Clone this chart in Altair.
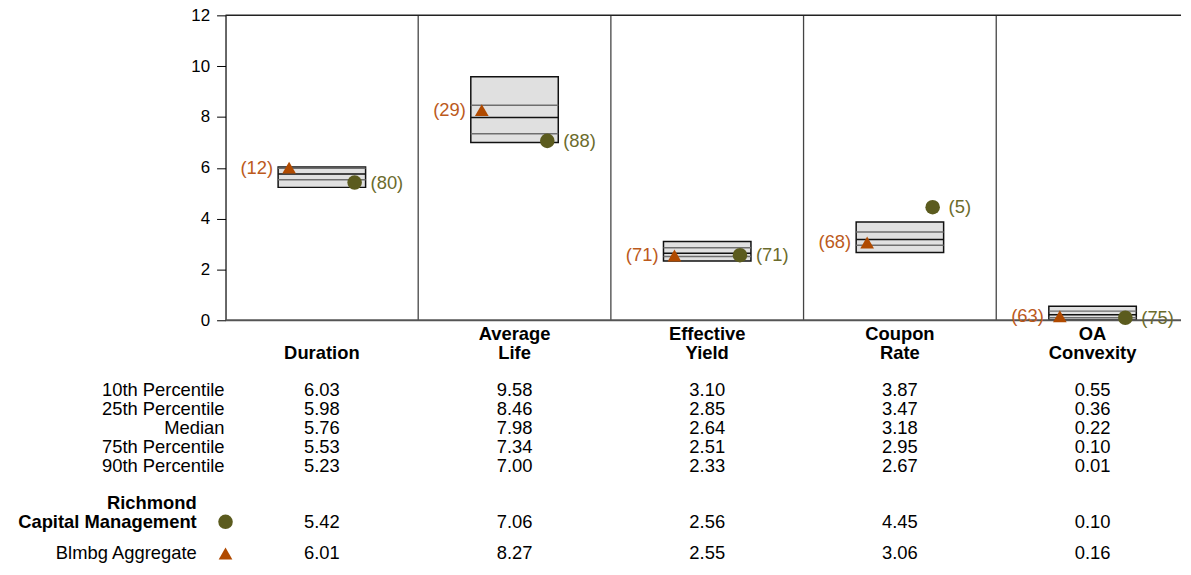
import altair as alt
import pandas as pd

# ---------------- data ----------------
categories = ["Duration", "Average Life", "Effective Yield", "Coupon Rate", "OA Convexity"]
p10 = [6.03, 9.58, 3.10, 3.87, 0.55]
p25 = [5.98, 8.46, 2.85, 3.47, 0.36]
median = [5.76, 7.98, 2.64, 3.18, 0.22]
p75 = [5.53, 7.34, 2.51, 2.95, 0.10]
p90 = [5.23, 7.00, 2.33, 2.67, 0.01]
manager_values = [5.42, 7.06, 2.56, 4.45, 0.10]
manager_ranks = [80, 88, 71, 5, 75]
bench_values = [6.01, 8.27, 2.55, 3.06, 0.16]
bench_ranks = [12, 29, 71, 68, 63]
percentile_labels = ["10th Percentile", "25th Percentile", "Median", "75th Percentile", "90th Percentile"]
manager_name = "Richmond Capital Management"
bench_name = "Blmbg Aggregate"
y_ticks = [0, 2, 4, 6, 8, 10, 12]

# ---------------- style / layout ----------------
FONT = "Liberation Sans"
MGR_COLOR = "#5b5b1e"
MGR_TEXT = "#6b6b2c"
BENCH_COLOR = "#b04a00"
BENCH_TEXT = "#bc5a1c"
BOX_HALF = 0.227
MARK_OFF = 0.17
X_MIN, X_MAX = -0.5, 4.459
W = 962
H = 307
FS = 18.5
TRI_SIZE = 190
CIRC_SIZE = 215
ROW_STEP = 19
# vertical slot (in row steps) of each table line
ROW_POS = {"cat1": 0, "cat2": 1, "p10": 3, "p25": 4, "median": 5, "p75": 6, "p90": 7,
           "mgr1": 8.97, "mgr": 9.97, "bench": 11.65}
TABLE_SPAN = ROW_POS["bench"] + 1

n = len(categories)
df = pd.DataFrame({
    "idx": list(range(n)), "cat": categories,
    "p10": p10, "p25": p25, "median": median, "p75": p75, "p90": p90,
    "mgr": manager_values, "mrank": manager_ranks,
    "bench": bench_values, "brank": bench_ranks,
})

xs = alt.Scale(domain=[X_MIN, X_MAX], nice=False, zero=False)
ys = alt.Scale(domain=[0, 12], nice=False, zero=False)
Y_AXIS = alt.Axis(
    values=y_ticks, tickSize=9, labelPadding=7, labelFontSize=17, labelFont=FONT,
    labelColor="black", domainColor="black", tickColor="black", domainWidth=1.2,
    grid=False, title=None)


def Yq(field):
    return alt.Y(f"{field}:Q", scale=ys, axis=Y_AXIS)


base = alt.Chart(df).transform_calculate(
    xl=f"datum.idx - {BOX_HALF}", xr=f"datum.idx + {BOX_HALF}",
    xb=f"datum.idx - {MARK_OFF}", xm=f"datum.idx + {MARK_OFF}",
    blabel="'(' + datum.brank + ')'", mlabel="'(' + datum.mrank + ')'",
)

div_df = pd.DataFrame({"d": [i + 0.5 for i in range(n - 1)], "lo": 0, "hi": 12})
dividers = alt.Chart(div_df).mark_rule(color="#444444", strokeWidth=1.3).encode(
    x=alt.X("d:Q", scale=xs, axis=None),
    y=Yq("lo"), y2="hi:Q",
)

frame_df = pd.DataFrame({"x0": [X_MIN], "x1": [X_MAX], "top": [12], "zero": [0]})
top_line = alt.Chart(frame_df).mark_rule(color="#222222", strokeWidth=1.5).encode(
    x=alt.X("x0:Q", scale=xs, axis=None), x2="x1:Q", y=Yq("top"),
)
zero_line = alt.Chart(frame_df).mark_rule(color="#555555", strokeWidth=2.2).encode(
    x=alt.X("x0:Q", scale=xs, axis=None), x2="x1:Q", y=Yq("zero"),
)

boxes = base.mark_rect(fill="#e0e0e0", stroke="#111111", strokeWidth=1.5).encode(
    x=alt.X("xl:Q", scale=xs, axis=None), x2="xr:Q",
    y=Yq("p10"), y2="p90:Q",
)


def line_at(field, color):
    return base.mark_rule(color=color, strokeWidth=1.5).encode(
        x=alt.X("xl:Q", scale=xs, axis=None), x2="xr:Q", y=Yq(field),
    )


l25 = line_at("p25", "#6e6e6e")
l75 = line_at("p75", "#6e6e6e")
lmed = line_at("median", "#111111")

tri = base.mark_point(shape="triangle-up", filled=True, size=TRI_SIZE, color=BENCH_COLOR, opacity=1).encode(
    x=alt.X("xb:Q", scale=xs, axis=None), y=Yq("bench"))
circ = base.mark_circle(size=CIRC_SIZE, color=MGR_COLOR, opacity=1).encode(
    x=alt.X("xm:Q", scale=xs, axis=None), y=Yq("mgr"))

btxt = base.mark_text(align="right", baseline="middle", dx=-5, fontSize=FS, font=FONT, color=BENCH_TEXT).encode(
    x=alt.X("xl:Q", scale=xs, axis=None), y=Yq("bench"), text="blabel:N")
mtxt = base.mark_text(align="left", baseline="middle", dx=5, fontSize=FS, font=FONT, color=MGR_TEXT).encode(
    x=alt.X("xr:Q", scale=xs, axis=None), y=Yq("mgr"), text="mlabel:N")

top = alt.layer(boxes, l25, l75, lmed, dividers, top_line, zero_line, tri, circ, btxt, mtxt).properties(
    width=W, height=H)

# ---------------- table ----------------
stat_keys = ["p10", "p25", "median", "p75", "p90"]
rs = alt.Scale(domain=[TABLE_SPAN - 0.5, -0.5], nice=False, zero=False)

val_records = []
for key, arr in zip(stat_keys + ["mgr", "bench"], [p10, p25, median, p75, p90, manager_values, bench_values]):
    for i, v in enumerate(arr):
        val_records.append({"pos": ROW_POS[key], "idx": i, "v": v})
val_df = pd.DataFrame(val_records)

cat_records = []
for i, c in enumerate(categories):
    parts = c.split(" ", 1)
    if len(parts) == 2:
        cat_records.append({"pos": ROW_POS["cat1"], "idx": i, "t": parts[0]})
        cat_records.append({"pos": ROW_POS["cat2"], "idx": i, "t": parts[1]})
    else:
        cat_records.append({"pos": ROW_POS["cat2"], "idx": i, "t": parts[0]})
cat_df = pd.DataFrame(cat_records)

lab_df = pd.DataFrame({"pos": [ROW_POS[k] for k in stat_keys], "t": percentile_labels, "x": X_MIN})
mname = manager_name.split(" ", 1)
name_df = pd.DataFrame({"pos": [ROW_POS["mgr1"], ROW_POS["mgr"]], "t": mname, "x": X_MIN})
bname_df = pd.DataFrame({"pos": [ROW_POS["bench"]], "t": [bench_name], "x": X_MIN})
mgr_sym = pd.DataFrame({"pos": [ROW_POS["mgr"]], "x": [X_MIN]})
bench_sym = pd.DataFrame({"pos": [ROW_POS["bench"]], "x": [X_MIN]})

Y_T = alt.Y("pos:Q", scale=rs, axis=None)

vals = alt.Chart(val_df).mark_text(fontSize=FS, font=FONT, color="black", baseline="middle").encode(
    x=alt.X("idx:Q", scale=xs, axis=None), y=Y_T, text=alt.Text("v:Q", format=".2f"))
cats = alt.Chart(cat_df).mark_text(fontSize=FS, font=FONT, fontWeight="bold", color="black", baseline="middle").encode(
    x=alt.X("idx:Q", scale=xs, axis=None), y=Y_T, text="t:N")
labs = alt.Chart(lab_df).mark_text(fontSize=FS, font=FONT, color="black", align="right", baseline="middle", dx=-1).encode(
    x=alt.X("x:Q", scale=xs, axis=None), y=Y_T, text="t:N")
names = alt.Chart(name_df).mark_text(fontSize=FS, font=FONT, fontWeight="bold", color="black", align="right", baseline="middle", dx=-29).encode(
    x=alt.X("x:Q", scale=xs, axis=None), y=Y_T, text="t:N")
bnames = alt.Chart(bname_df).mark_text(fontSize=FS, font=FONT, color="black", align="right", baseline="middle", dx=-29).encode(
    x=alt.X("x:Q", scale=xs, axis=None), y=Y_T, text="t:N")
sym_c = alt.Chart(mgr_sym).mark_circle(size=CIRC_SIZE, color=MGR_COLOR, opacity=1).encode(
    x=alt.X("x:Q", scale=xs, axis=None), y=Y_T)
sym_t = alt.Chart(bench_sym).mark_point(shape="triangle-up", filled=True, size=TRI_SIZE, color=BENCH_COLOR, opacity=1).encode(
    x=alt.X("x:Q", scale=xs, axis=None), y=Y_T)

table = alt.layer(cats, vals, labs, names, bnames, sym_c, sym_t).properties(
    width=W, height=ROW_STEP * TABLE_SPAN)

chart = alt.vconcat(top, table, spacing=4, bounds="flush").properties(
    padding={"left": 10, "top": -3.5, "right": 0, "bottom": 0}
).configure(font=FONT).configure_view(stroke=None)

chart.save("out.html", embed_options={"renderer": "svg", "actions": False})
